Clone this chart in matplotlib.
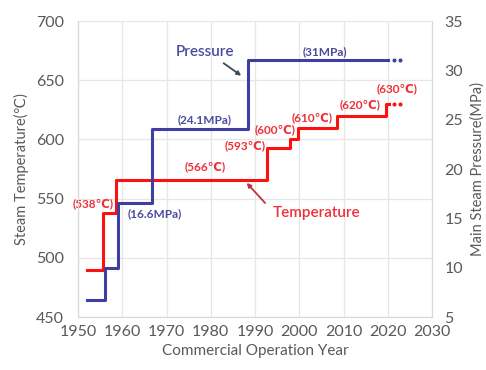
import matplotlib.pyplot as plt

plt.rcParams['font.family'] = ['Lato', 'DejaVu Sans']

# steam temperature steps (year the step starts, degC)
tempYears = [1952, 1955.6, 1958.6, 1992.7, 1997.9, 1999.8, 2008.5, 2019.6, 2020.3]
tempVals = [490, 538, 566, 593, 600, 610, 620, 630, 630]

# main steam pressure steps (year, MPa)
pressYears = [1952, 1956, 1959, 1966.7, 1988.5, 2020]
pressVals = [6.7, 10, 16.6, 24.1, 31, 31]

# dotted "to be continued" tails
tailYears = [2021.3, 2022.8]

tempLabels = ['(538℃)', '(566℃)', '(593℃)', '(600℃)', '(610℃)', '(620℃)', '(630℃)']
pressLabels = ['(16.6MPa)', '(24.1MPa)', '(31MPa)']

red = '#FF1010'
blue = '#3F3FA3'
redText = '#EE3038'
blueText = '#4B4B9E'
gray = '#595959'

fig = plt.figure(figsize=(4.86, 3.70), dpi=100)
ax = fig.add_axes([0.1605, 0.1432, 0.7284, 0.80])
ax2 = ax.twinx()

ax.step(tempYears, tempVals, where='post', color=red, lw=2.2, zorder=3)
ax.plot(tailYears, [tempVals[-1]] * 2, color=red, ls='none', marker='o',
        ms=1.9, zorder=3)
ax2.step(pressYears, pressVals, where='post', color=blue, lw=2.2, zorder=3)
ax2.plot(tailYears, [pressVals[-1]] * 2, color=blue, ls='none', marker='o',
         ms=1.9, zorder=3)

ax.set_xlim(1950, 2030)
ax.set_ylim(450, 700)
ax2.set_ylim(5, 35)
ax.set_xticks(range(1950, 2031, 10))
ax.set_yticks(range(450, 701, 50))
ax2.set_yticks(range(5, 36, 5))

ax.grid(True, color='#E6E6E6', lw=0.9)
ax.set_axisbelow(True)
for a in (ax, ax2):
    for s in a.spines.values():
        s.set_color('#D9D9D9')
    a.spines['top'].set_visible(False)
    a.tick_params(length=0, labelsize=11.5, labelcolor=gray)
ax.tick_params(axis='y', pad=10)
ax2.tick_params(axis='y', pad=9)
ax.tick_params(axis='x', pad=6)

ax.set_xlabel('Commercial Operation Year', fontsize=11, color=gray, labelpad=3)
ax.set_ylabel('Steam Temperature(℃)', fontsize=10.5, color=gray, labelpad=5)
ax2.set_ylabel('Main Steam Pressure(MPa)', fontsize=10.5, color=gray, labelpad=5)

# value labels
tempPos = [(1953.4, 546), (1978.7, 577), (1987.7, 594.5), (1994.5, 608),
           (2003, 618.5), (2013.7, 629), (2022, 642.5)]
for txt, (x, y) in zip(tempLabels, tempPos):
    ax.text(x, y, txt, color=redText, fontsize=8.5, fontweight='bold',
            ha='center', va='center', zorder=4)

pressPos = [(1967.3, 537), (1978.7, 617), (2005.8, 674)]
for txt, (x, y) in zip(pressLabels, pressPos):
    ax.text(x, y, txt, color=blueText, fontsize=8.5, fontweight='bold',
            ha='center', va='center', zorder=4)

ax.text(1978.7, 674, 'Pressure', color=blueText, fontsize=11,
        fontweight='semibold', ha='center', va='center')
ax.annotate('', xy=(1987.4, 652.5), xytext=(1982.4, 665.7),
            arrowprops=dict(arrowstyle='-|>', color='#3A4A5A', lw=1.3,
                            mutation_scale=6))
ax.text(2004, 537.6, 'Temperature', color=redText, fontsize=11,
        fontweight='semibold', ha='center', va='center')
ax.annotate('', xy=(1987.7, 565), xytext=(1992.7, 544.6),
            arrowprops=dict(arrowstyle='-|>', color='#C03040', lw=1.3,
                            mutation_scale=6))

fig.savefig('out.png', dpi=100)
